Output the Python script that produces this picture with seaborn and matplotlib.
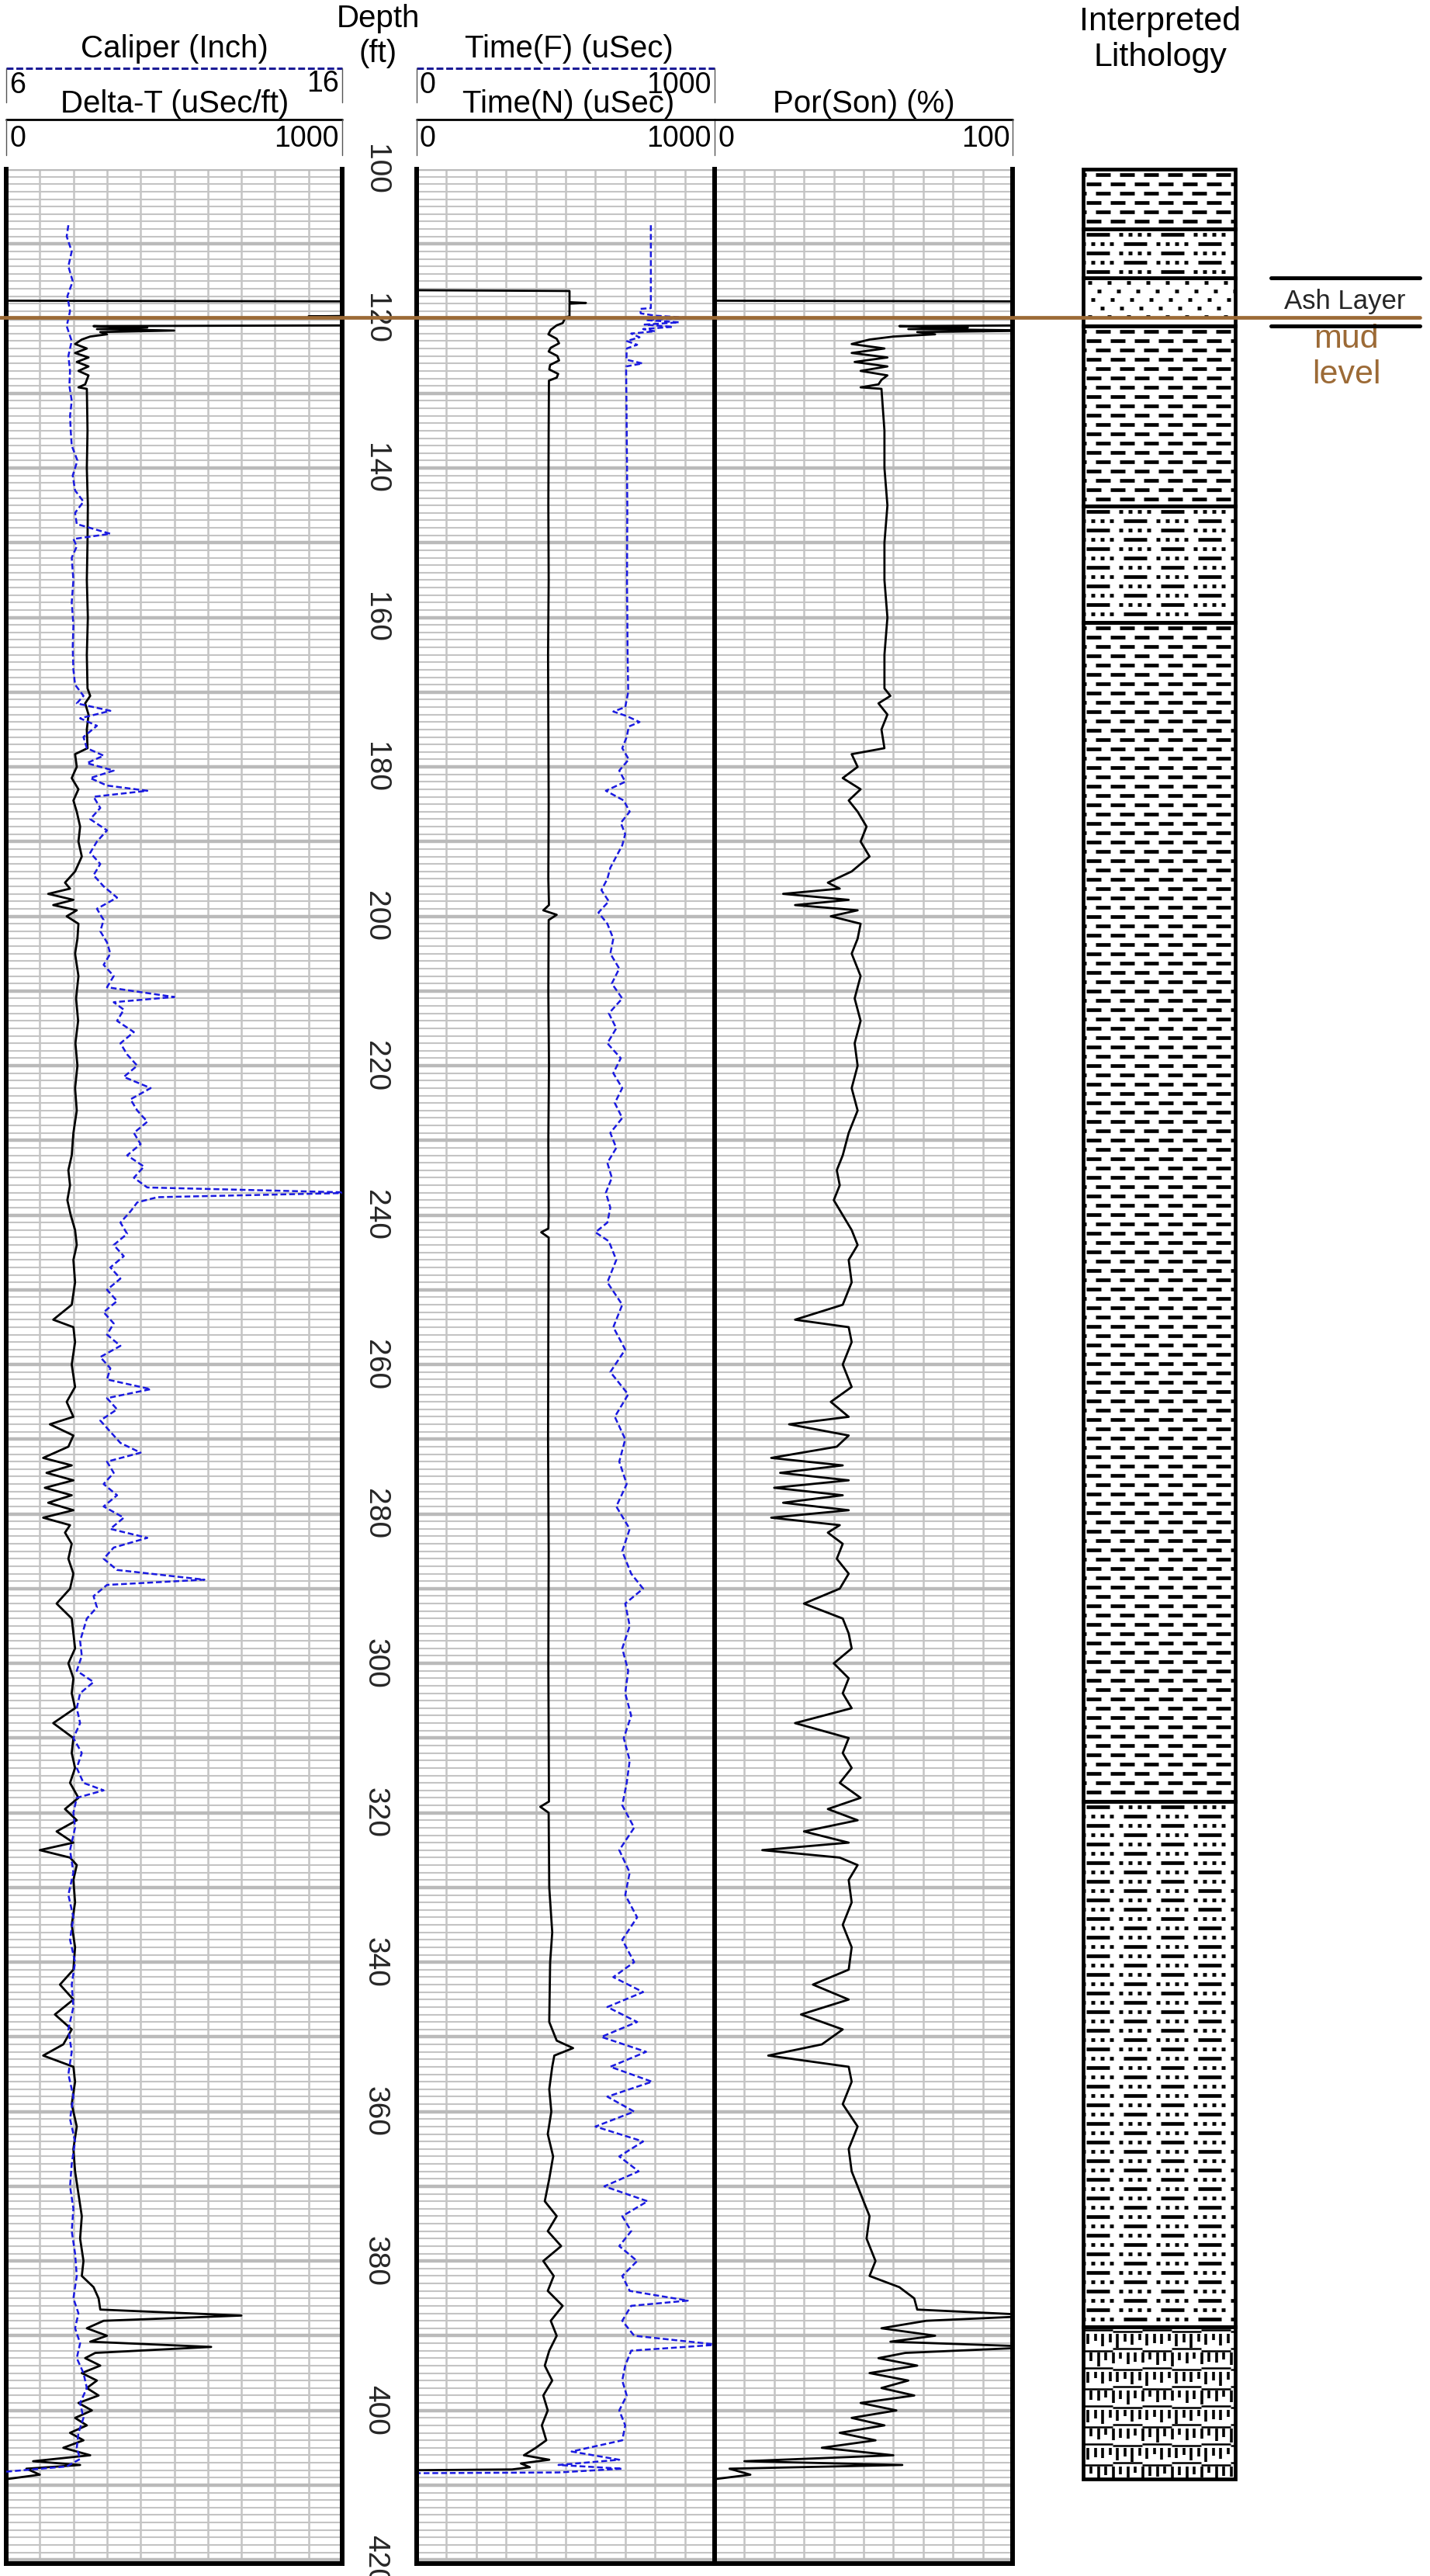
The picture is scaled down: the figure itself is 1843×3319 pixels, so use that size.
import numpy as np
import matplotlib
matplotlib.use("Agg")
import matplotlib.pyplot as plt
import seaborn as sns
from matplotlib.lines import Line2D
from matplotlib.patches import Rectangle
from matplotlib.collections import LineCollection
from matplotlib.transforms import blended_transform_factory

# ---------------------------------------------------------------- data
# Sonic curves (Delta-T in uSec/ft, Por(Son) in %) share one depth list (ft)
SONIC_DEPTH = [
    117.6, 117.7, 119.6, 119.7, 119.8, 120.9, 121.0, 121.2, 121.4, 121.6,
    121.8, 122.1, 122.4, 122.8, 123.4, 124.0, 124.6, 125.2, 125.8, 126.4,
    127.0, 127.6, 128.2, 128.8, 129.2, 129.4, 135, 140, 145, 150,
    155, 160, 165, 169.5, 170.5, 171.5, 173, 175, 177.5, 178.3,
    180, 181.5, 183, 184.5, 186, 188, 190, 192, 194, 195.5,
    196.3, 197, 197.8, 198.5, 199.2, 200, 201, 203, 205, 208,
    211, 214, 217, 220, 223, 226, 229, 232, 234, 236,
    238, 240, 242, 244, 246, 249, 252, 254, 255, 257,
    260, 263, 265, 267, 268, 269.5, 271, 272.5, 273.5, 274.5,
    275.5, 276.5, 277.5, 278.5, 279.5, 280.5, 281.5, 282.5, 284, 286,
    288, 290, 292, 294, 296, 298, 300, 302, 304, 306,
    308, 310, 312, 314, 316, 318, 319.5, 321, 322.5, 324,
    325, 326, 327, 329, 332, 335, 338, 341, 343, 345,
    347, 349, 351, 352.5, 354, 356, 359, 362, 365, 368,
    371, 374, 377, 380, 382, 383.5, 385, 386.5, 387.3, 388,
    389, 390, 390.8, 391.5, 392.3, 393, 394, 395, 396, 397,
    398, 399, 400, 401, 402, 403, 404, 405, 406, 406.8,
    407.3, 407.8, 408.6, 409.2,
]
DT_VAL = [
    0, 1100, 1100, 900, 1100, 1100, 260, 420, 270, 500,
    280, 300, 250, 225, 205, 240, 205, 245, 210, 245,
    215, 245, 240, 235, 215, 240, 242, 240, 243, 242,
    240, 243, 240, 242, 250, 235, 245, 240, 242, 205,
    210, 195, 215, 200, 210, 220, 215, 225, 205, 175,
    190, 125, 200, 140, 210, 180, 215, 212, 205, 215,
    208, 214, 206, 212, 205, 210, 200, 195, 185, 190,
    182, 192, 205, 210, 200, 205, 195, 140, 200, 205,
    195, 205, 180, 200, 130, 200, 185, 110, 195, 120,
    200, 115, 195, 125, 200, 110, 190, 175, 195, 185,
    200, 190, 150, 195, 200, 205, 185, 200, 195, 205,
    140, 200, 195, 205, 190, 215, 175, 210, 150, 200,
    100, 190, 210, 200, 205, 195, 205, 200, 160, 200,
    145, 195, 170, 110, 200, 205, 195, 210, 200, 205,
    215, 225, 220, 230, 225, 260, 275, 280, 700, 290,
    240, 300, 250, 610, 265, 235, 280, 225, 270, 240,
    275, 215, 255, 205, 240, 190, 230, 170, 250, 80,
    220, 60, 100, 0,
]
POR_VAL = [
    0, 110, 110, 105, 110, 110, 62, 85, 65, 110,
    68, 74, 60, 52, 46, 57, 46, 58, 47, 58,
    49, 58, 56, 55, 49, 56, 57, 57, 58, 57,
    57, 58, 57, 57, 59, 55, 58, 56, 57, 46,
    48, 43, 49, 45, 48, 51, 49, 52, 46, 38,
    42, 23, 45, 27, 48, 39, 49, 48, 46, 49,
    47, 49, 47, 48, 46, 48, 45, 43, 41, 42,
    40, 43, 46, 48, 45, 46, 43, 27, 45, 46,
    43, 46, 39, 45, 25, 45, 41, 19, 43, 22,
    45, 20, 43, 23, 45, 19, 42, 38, 43, 41,
    45, 42, 30, 43, 45, 46, 40, 45, 43, 46,
    27, 45, 43, 46, 42, 49, 38, 48, 30, 45,
    16, 42, 48, 45, 46, 43, 46, 45, 33, 45,
    29, 43, 36, 18, 45, 46, 43, 48, 45, 46,
    49, 52, 51, 54, 52, 62, 67, 68, 110, 71,
    56, 74, 59, 110, 64, 55, 68, 52, 65, 56,
    67, 49, 61, 46, 57, 42, 54, 36, 60, 10,
    63, 5, 12, 0,
]

# Caliper (inch)
CAL_DEPTH = [
    107.5, 109, 111, 113, 115, 117, 119, 121, 123, 125,
    127, 129, 131, 133, 135, 137, 139, 141, 143, 144.5,
    146, 147.5, 148.8, 149.5, 150.5, 152, 155, 158, 161, 164,
    167, 169, 170.5, 171.5, 172.5, 173.5, 174.5, 176, 177.5, 178.5,
    179.5, 180.5, 181.5, 182.5, 183.2, 184, 185.5, 187, 188.5, 190,
    191.5, 193, 194.5, 196, 197.5, 199, 200.5, 202, 203.5, 205,
    206.5, 208, 209.5, 210.8, 211.5, 212.5, 214, 215.5, 217, 218.5,
    220, 221.5, 223, 224.5, 226, 227.5, 229, 230.5, 232, 233.5,
    235, 236.3, 237, 237.6, 238.3, 239.5, 241, 242.5, 244, 245.5,
    247, 248.5, 250, 251.5, 253, 254.5, 256, 257.5, 259, 260.5,
    262, 263.3, 264.5, 266, 267.5, 269, 270.5, 271.8, 273, 274.5,
    276, 277.5, 279, 280.5, 282, 283.2, 284.5, 286, 287.5, 288.8,
    289.5, 291, 292.5, 294, 295.5, 297, 299, 301, 302.5, 304,
    306, 308, 310, 312, 314, 316, 317, 318, 320, 322,
    325, 328, 331, 334, 337, 340, 343, 346, 349, 352,
    355, 358, 361, 364, 367, 370, 373, 376, 379, 382,
    385, 387, 389, 391, 393, 395, 397, 399, 401, 403,
    405, 406.5, 407.5, 408.2,
]
CAL_VAL = [
    7.85, 7.8, 7.95, 7.85, 7.98, 7.82, 7.9, 7.8, 7.95, 7.85,
    7.9, 7.88, 7.95, 7.9, 7.92, 7.95, 8.12, 7.98, 8.05, 8.3,
    8.05, 8.1, 9.1, 8.0, 8.1, 7.95, 8.0, 7.95, 8.0, 7.98,
    8.0, 8.05, 8.3, 8.1, 9.1, 8.2, 8.7, 8.3, 8.4, 8.9,
    8.4, 9.2, 8.5, 9.0, 10.2, 8.6, 8.8, 8.5, 9.0, 8.7,
    8.5, 8.8, 8.6, 8.9, 9.3, 8.7, 8.9, 8.8, 9.0, 9.1,
    8.9, 9.2, 9.0, 11.0, 9.2, 9.5, 9.3, 9.8, 9.4, 9.6,
    9.9, 9.5, 10.3, 9.7, 9.9, 10.2, 9.8, 10.0, 9.6, 10.1,
    9.8, 10.2, 16.5, 10.5, 9.9, 9.7, 9.4, 9.6, 9.2, 9.5,
    9.1, 9.4, 9.0, 9.3, 8.9, 9.2, 9.0, 9.4, 8.8, 9.1,
    9.0, 10.3, 9.0, 9.3, 8.8, 9.1, 9.4, 10.0, 9.0, 9.2,
    8.9, 9.3, 8.9, 9.5, 9.1, 10.2, 9.2, 8.9, 9.3, 11.9,
    9.0, 8.6, 8.7, 8.4, 8.3, 8.2, 8.25, 8.1, 8.6, 8.2,
    8.1, 8.2, 8.0, 8.25, 8.1, 8.3, 8.9, 8.1, 8.0, 8.05,
    7.9, 8.0, 7.85, 8.0, 7.9, 8.05, 7.95, 8.0, 7.85, 7.95,
    7.85, 8.0, 7.9, 8.05, 7.95, 7.9, 8.0, 7.95, 8.05, 8.1,
    8.0, 8.15, 8.05, 8.2, 8.1, 8.3, 8.4, 8.2, 8.3, 8.15,
    8.1, 8.2, 7.8, 6.0,
]

# Time(N) (uSec)
TN_DEPTH = [
    116.2, 116.3, 117.8, 117.9, 118.0, 119.7, 119.8, 120.6, 120.9, 121.5,
    122.1, 122.7, 123.3, 123.9, 124.4, 125.0, 125.6, 126.2, 126.8, 127.4,
    127.9, 128.3, 135, 145, 155, 165, 175, 185, 195, 198.5,
    199.2, 199.8, 200.5, 210, 220, 230, 240, 241.8, 242.3, 243,
    255, 270, 285, 300, 318.5, 319.2, 320, 330, 336, 340,
    348, 350.5, 351.5, 352.5, 354, 357, 360, 363, 366, 369,
    372, 374, 376, 378, 380, 382, 384, 386, 388, 390,
    392, 394, 396, 398, 400, 402, 404, 405, 406, 406.6,
    407.1, 407.6, 407.9, 408.0,
]
TN_VAL = [
    0, 513, 513, 568, 513, 513, 500, 490, 470, 450,
    442, 470, 478, 450, 443, 472, 478, 448, 445, 475,
    470, 444, 443, 442, 443, 441, 442, 443, 442, 444,
    425, 470, 443, 442, 444, 442, 443, 442, 418, 443,
    442, 441, 443, 442, 444, 415, 443, 445, 455, 448,
    445, 470, 525, 462, 455, 445, 452, 440, 458, 445,
    430, 470, 440, 485, 425, 460, 440, 490, 450, 470,
    445, 430, 455, 425, 440, 420, 435, 400, 360, 445,
    350, 380, 320, 0,
]

# Time(F) (uSec)
TF_DEPTH = [
    107.5, 118.6, 118.7, 119.3, 119.6, 119.9, 120.2, 120.5, 120.8, 121.1,
    121.4, 121.7, 122.0, 122.5, 123.0, 123.5, 124.0, 125.5, 126.0, 126.4,
    135, 145, 155, 165, 170, 172, 172.6, 173.2, 174, 174.6,
    176, 177.5, 179, 180.5, 182, 183.2, 184.5, 186, 187.5, 189,
    190.5, 192, 193.5, 195, 196.5, 198, 199.5, 201, 203, 205,
    207, 209, 211, 213, 215, 217, 219, 221, 223, 225,
    227, 229, 231, 233, 235, 237, 239, 241, 242.3, 243.5,
    246, 249, 252, 255, 258, 261, 264, 267, 270, 273,
    276, 279, 282, 285, 288, 290, 292, 295, 298, 301,
    304, 307, 310, 313, 316, 319, 322, 325, 328, 331,
    334, 337, 340, 342, 344, 346, 348, 350, 352, 354,
    356, 358, 360, 362, 364, 366, 368, 370, 372, 374,
    376, 378, 380, 382, 384, 385.3, 386, 388, 390, 391.2,
    392, 394, 396, 398, 400, 402, 404, 405.5, 406.6, 407.3,
    407.8, 408.3, 408.4,
]
TF_VAL = [
    786, 786, 750, 752, 800, 917, 770, 880, 765, 860,
    760, 800, 720, 748, 705, 740, 705, 704, 758, 703,
    705, 707, 706, 708, 710, 700, 660, 705, 748, 712,
    705, 690, 712, 680, 700, 635, 695, 715, 685, 700,
    690, 670, 650, 640, 620, 645, 610, 640, 660, 650,
    680, 655, 690, 645, 670, 640, 685, 660, 690, 665,
    690, 650, 670, 640, 655, 635, 650, 640, 600, 645,
    670, 640, 690, 660, 700, 650, 710, 665, 700, 680,
    705, 670, 715, 690, 720, 760, 700, 715, 690, 710,
    700, 720, 695, 715, 705, 690, 730, 680, 715, 700,
    740, 690, 730, 660, 760, 640, 740, 620, 770, 650,
    790, 640, 730, 600, 760, 680, 745, 630, 775, 690,
    720, 680, 740, 690, 715, 910, 720, 690, 730, 1010,
    720, 700, 690, 705, 680, 700, 690, 520, 680, 476,
    690, 476, 0,
]

# Interpreted lithology intervals (ft)
LITH_TOP = [100.0, 108.0, 114.5, 121.0, 145.1, 160.7, 318.5, 388.8]
LITH_BASE = [108.0, 114.5, 121.0, 145.1, 160.7, 318.5, 388.8, 409.2]
LITH_KIND = ["shale", "silty", "ash", "shale", "silty", "shale", "silty", "tuff"]

ASH_TOP, ASH_BASE = 114.5, 121.0
MUD_LEVEL = 119.8
DEPTH_LABELS = list(range(100, 421, 20))

# ---------------------------------------------------------------- style
sns.set_theme(style="white")
plt.rcParams['font.family'] = ['Liberation Sans', 'DejaVu Sans']

W, H, DPI = 1843, 3319, 100
fig = plt.figure(figsize=(W / DPI, H / DPI), dpi=DPI)
fig.patch.set_facecolor('white')

TOP_PX, BOT_PX = 218, 3303
DEPTH_TOP, DEPTH_BOT = 100, 420.5
PPF = (BOT_PX - TOP_PX) / (DEPTH_BOT - DEPTH_TOP)

BLUE = '#1a1ae0'
NAVY = '#1c1c96'
BROWN = '#9c6a36'
GRID_MINOR = '#c4c4c4'
GRID_MAJOR = '#bababa'
CURVE_LW = 2.0


def px2fig(x, y):
    return x / W, 1 - y / H


def make_ax(x0, x1):
    l, b = px2fig(x0, BOT_PX)
    return fig.add_axes([l, b, (x1 - x0) / W, (BOT_PX - TOP_PX) / H])


def style_track(ax, lo, hi):
    ax.set_xlim(lo, hi)
    ax.set_ylim(DEPTH_BOT, DEPTH_TOP)
    ax.set_facecolor('white')
    ax.set_xticks(np.linspace(lo, hi, 11))
    ax.set_yticks(np.arange(100, 421, 10))
    ax.set_yticks(np.arange(100, 421, 1), minor=True)
    ax.set_xticklabels([])
    ax.set_yticklabels([])
    ax.tick_params(which='both', length=0, labelleft=False, labelbottom=False)
    ax.yaxis.grid(True, which='minor', color=GRID_MINOR, lw=1.5)
    ax.yaxis.grid(True, which='major', color=GRID_MAJOR, lw=3.2)
    ax.xaxis.grid(True, which='major', color=GRID_MINOR, lw=1.8)
    ax.set_axisbelow(True)
    ax.set_xlabel('')
    ax.set_ylabel('')
    for s in ['left', 'right', 'bottom']:
        ax.spines[s].set_visible(True)
        ax.spines[s].set_color('black')
        ax.spines[s].set_linewidth(4.3)
    ax.spines['top'].set_visible(False)


ax1 = make_ax(8, 441)
ax2 = make_ax(537, 921)
ax3 = make_ax(921, 1305)
axL = make_ax(1396, 1592)

DASH = (0, (3.0, 1.5))

# Track 1: Delta-T + Caliper
sns.lineplot(x=DT_VAL, y=SONIC_DEPTH, ax=ax1, sort=False, estimator=None,
             color='black', lw=CURVE_LW, legend=False)
style_track(ax1, 0, 1000)
ax1c = ax1.twiny()
sns.lineplot(x=CAL_VAL, y=CAL_DEPTH, ax=ax1c, sort=False, estimator=None,
             color=BLUE, lw=1.8, linestyle=DASH, legend=False)
ax1c.set_xlim(6, 16)
ax1c.axis('off')
ax1.set_ylim(DEPTH_BOT, DEPTH_TOP)

# Track 2: Time(N) + Time(F)
sns.lineplot(x=TN_VAL, y=TN_DEPTH, ax=ax2, sort=False, estimator=None,
             color='black', lw=CURVE_LW, legend=False)
sns.lineplot(x=TF_VAL, y=TF_DEPTH, ax=ax2, sort=False, estimator=None,
             color=BLUE, lw=1.8, linestyle=DASH, legend=False)
style_track(ax2, 0, 1000)

# Track 3: Por(Son)
sns.lineplot(x=POR_VAL, y=SONIC_DEPTH, ax=ax3, sort=False, estimator=None,
             color='black', lw=CURVE_LW, legend=False)
style_track(ax3, 0, 100)

# depth labels
trans = ax1.get_yaxis_transform()
xlab = (484 - 8) / (441 - 8)
for d in DEPTH_LABELS:
    ax1.text(xlab, d, str(d), rotation=270, ha='center', va='center',
             fontsize=28, transform=trans, clip_on=False)

# ---------------------------------------------------------------- header
def ftxt(x, y, s, size, ha='center', va='center', color='black'):
    a, b = px2fig(x, y)
    fig.text(a, b, s, fontsize=size, ha=ha, va=va, color=color)


def fline(x0, x1, y0, y1, **kw):
    a, b = px2fig(x0, y0)
    c, d = px2fig(x1, y1)
    fig.add_artist(Line2D([a, c], [b, d], **kw))


TITLE_FS = 29
TICK_FS = 27
tick_kw = dict(color='#555555', lw=1.0)

# track 1 header
ftxt(225, 63, 'Caliper (Inch)', TITLE_FS)
fline(8, 441, 88, 88, color=NAVY, lw=2.2, linestyle=(0, (2.9, 1.2)))
fline(8, 8, 88, 132, **tick_kw)
fline(441, 441, 88, 132, **tick_kw)
ftxt(12, 110, '6', TICK_FS, ha='left')
ftxt(437, 108, '16', TICK_FS, ha='right')
ftxt(225, 134, 'Delta-T (uSec/ft)', TITLE_FS)
fline(8, 441, 154, 154, color='black', lw=2.0)
fline(8, 8, 154, 200, **tick_kw)
fline(441, 441, 154, 200, **tick_kw)
ftxt(12, 179, '0', TICK_FS, ha='left')
ftxt(437, 179, '1000', TICK_FS, ha='right')

# depth header
ftxt(487, 24, 'Depth', TITLE_FS)
ftxt(487, 69, '(ft)', TITLE_FS)

# track 2 header
ftxt(733, 63, 'Time(F) (uSec)', TITLE_FS)
fline(537, 921, 88, 88, color=NAVY, lw=2.2, linestyle=(0, (2.9, 1.2)))
fline(537, 537, 88, 132, **tick_kw)
fline(921, 921, 88, 132, **tick_kw)
ftxt(541, 110, '0', TICK_FS, ha='left')
ftxt(917, 110, '1000', TICK_FS, ha='right')
ftxt(733, 134, 'Time(N) (uSec)', TITLE_FS)
fline(537, 921, 154, 154, color='black', lw=2.0)
fline(537, 537, 154, 200, **tick_kw)
fline(921, 921, 154, 200, **tick_kw)
ftxt(541, 179, '0', TICK_FS, ha='left')
ftxt(917, 179, '1000', TICK_FS, ha='right')

# track 3 header
ftxt(1113, 134, 'Por(Son) (%)', TITLE_FS)
fline(921, 1305, 154, 154, color='black', lw=2.0)
fline(1305, 1305, 154, 200, **tick_kw)
ftxt(925, 179, '0', TICK_FS, ha='left')
ftxt(1302, 179, '100', TICK_FS, ha='right')

# lithology header
ftxt(1495, 28, 'Interpreted', 31)
ftxt(1495, 74, 'Lithology', 31)

# ---------------------------------------------------------------- lithology column
axL.set_xlim(0, 1)
axL.set_ylim(DEPTH_BOT, DEPTH_TOP)
axL.axis('off')
COL_W = 1592 - 1396


def xp(p):
    return p / COL_W


def dp(p):
    return p / PPF


def shale_segs(top, base):
    segs, y, row = [], top + dp(7), 0
    while y < base - dp(3):
        off = 16 if row % 2 == 0 else 4
        x = off - 31
        while x < COL_W:
            segs.append([(xp(x), y), (xp(x + 19), y)])
            x += 31
        y += dp(12)
        row += 1
    return segs


def silty_segs(top, base):
    segs, y, row = [], top + dp(7), 0
    while y < base - dp(3):
        p = (0 if row % 2 == 0 else 48) - 96
        while p < COL_W:
            segs.append([(xp(p + 4), y), (xp(p + 34), y)])
            for s in (46, 58, 70, 82):
                segs.append([(xp(p + s), y), (xp(p + s + 5), y)])
            p += 96
        y += dp(12)
        row += 1
    return segs


def ash_segs(top, base):
    offs = [6, 18, 10, 22]
    segs, y, row = [], top + dp(6), 0
    while y < base - dp(3):
        x = offs[row % 4]
        while x < COL_W:
            segs.append([(xp(x), y), (xp(x + 5), y)])
            x += 25
        y += dp(11)
        row += 1
    return segs


def tuff_segs(top, base):
    lines, bars = [], []
    heights = [13, 9, 16, 11, 18, 10, 14, 8, 15, 12]
    y0, row = top + dp(4), 0
    while y0 < base - dp(5):
        x, k = 0, 0
        while x < COL_W:
            yy = y0 + dp(2.5 if (k + row) % 2 else 0)
            lines.append([(xp(x), yy), (xp(x + 38), yy)])
            x += 38
            k += 1
        x, j = 6 + (row % 2) * 4, row * 3
        while x < COL_W - 3:
            h = heights[j % len(heights)]
            bars.append([(xp(x), y0 + dp(5)), (xp(x), min(y0 + dp(5 + h), base))])
            x += 9.5
            j += 1
        y0 += dp(24.5)
        row += 1
    return lines, bars


for top, base, kind in zip(LITH_TOP, LITH_BASE, LITH_KIND):
    fill = Rectangle((0, top), 1, base - top, facecolor='white', edgecolor='none', zorder=1)
    axL.add_patch(fill)
    if kind == 'tuff':
        lines, bars = tuff_segs(top, base)
        cols = [LineCollection(lines, colors='black', linewidths=1.8, zorder=2),
                LineCollection(bars, colors='black', linewidths=2.6, capstyle='butt', zorder=2)]
    else:
        segs = {'shale': shale_segs, 'silty': silty_segs, 'ash': ash_segs}[kind](top, base)
        cols = [LineCollection(segs, colors='black', linewidths=3.4, capstyle='butt', zorder=2)]
    for c in cols:
        axL.add_collection(c)
        c.set_clip_path(fill)
    border = Rectangle((0, top), 1, base - top, facecolor='none', edgecolor='black',
                       lw=3.4, zorder=4, clip_on=False)
    axL.add_patch(border)

# ---------------------------------------------------------------- annotations
bt1 = blended_transform_factory(fig.transFigure, ax1.transData)
fig.add_artist(Line2D([0, 1830 / W], [MUD_LEVEL, MUD_LEVEL], transform=bt1,
                      color=BROWN, lw=3.4, zorder=10))
btL = blended_transform_factory(fig.transFigure, axL.transData)
for d in (ASH_TOP, ASH_BASE):
    fig.add_artist(Line2D([1638 / W, 1830 / W], [d, d], transform=btL,
                          color='black', lw=3.6, zorder=9))
fig.text(1733 / W, (ASH_TOP + ASH_BASE) / 2, 'Ash Layer', transform=btL,
         fontsize=25, ha='center', va='center', zorder=11)
ftxt(1735, 448, 'mud', 31, va='baseline', color=BROWN)
ftxt(1735, 494, 'level', 31, va='baseline', color=BROWN)

fig.savefig('out.png', dpi=DPI, facecolor='white')
